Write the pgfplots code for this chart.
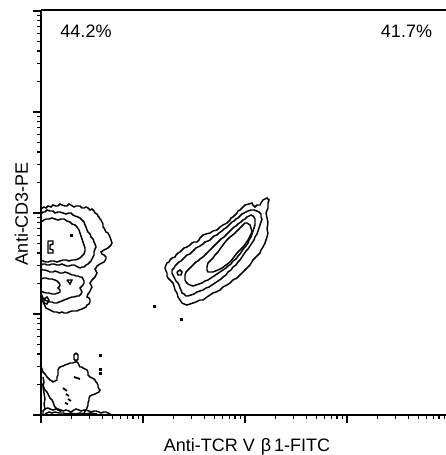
\documentclass[border=0pt]{standalone}
\usepackage{pgfplots}
\pgfplotsset{compat=1.18}
\usepackage{fontspec}
\setmainfont{Liberation Sans}
\newcommand\fs{\fontsize{18}{21}\selectfont}
\begin{document}
\begin{tikzpicture}
\begin{axis}[
  at={(0,0)}, anchor=south west,
  scale only axis, width=405pt, height=405pt,
  xmin=0, xmax=405, ymin=0, ymax=405,
  axis x line=box, axis y line=left,
  axis line style={line width=2pt,-},
  xtick pos=bottom,
  xtick={0,102,204,306},
  minor xtick={30.7,48.7,61.4,71.3,79.4,86.2,92.1,97.3,
    132.7,150.7,163.4,173.3,181.4,188.2,194.1,199.3,
    234.7,252.7,265.4,275.3,283.4,290.2,296.1,301.3,
    336.7,354.7,367.4,377.3,385.4,392.2,398.1,403.3},
  ytick={0,101,202,303,404},
  minor ytick={30.4,48.2,60.8,70.6,78.6,85.4,91.2,96.4,
    131.4,149.2,161.8,171.6,179.6,186.4,192.2,197.4,
    232.4,250.2,262.8,272.6,280.6,287.4,293.2,298.4,
    333.4,351.2,363.8,373.6,381.6,388.4,394.2,399.4},
  xticklabels={}, yticklabels={},
  tick align=outside,
  major tick length=8pt, minor tick length=4pt,
  tick style={black, line width=1.4pt},
  clip=false,
  c/.style={black, line width=1.45pt, mark=none, sharp plot, line join=miter},
  d/.style={black, only marks, mark=square*, mark size=1.2pt},
]
% ---- upper-left population (CD3+ Vb1-)
\addplot[c] coordinates {(0,206) (3,208) (5,207) (7,209) (10,208) (12,210) (15,209) (17,209) (19,211) (21,210) (24,209) (26,209) (28,211) (30,210) (33,208) (35,209) (39,209) (41,207) (43,207) (45,208) (47,207) (49,205) (51,206) (53,204) (54,202) (56,201) (57,199) (58,198) (59,196) (60,195) (61,193) (62,191) (62,188) (63,187) (64,185) (65,183) (67,182) (68,180) (69,178) (70,175) (71,172) (70,170) (68,168) (67,167) (65,166) (63,165) (60,163) (61,161) (63,160) (65,158) (65,156) (63,153) (61,152) (59,151) (56,149) (55,147) (54,146) (55,144) (56,142) (55,140) (54,138) (52,136) (51,135) (49,132) (50,130) (51,128) (50,126) (49,124) (48,122) (47,121) (46,118) (48,117) (49,115) (49,113) (48,111) (46,110) (45,108) (43,107) (41,106) (38,105) (36,104) (33,104) (31,104) (28,103) (26,102) (23,102) (21,103) (18,102) (16,103) (13,103) (11,104) (9,105) (7,106) (5,107) (4,109) (3,111) (2,113) (1,117) (0,120)};
\addplot[c] coordinates {(0,201) (2,203) (4,203) (6,205) (9,204) (12,204) (14,202) (17,203) (19,203) (22,202) (25,201) (28,202) (30,202) (32,200) (34,199) (37,198) (39,197) (41,195) (43,193) (44,190) (45,188) (46,185) (47,183) (49,181) (50,178) (52,176) (53,173) (54,171) (55,168) (54,166) (53,163) (53,160) (52,158) (51,156) (50,154) (48,152) (47,151) (45,150) (43,148) (41,148) (39,147) (37,148) (35,149) (33,150) (31,150) (28,149) (26,149) (23,150) (21,151) (18,150) (16,150) (13,151) (11,151) (8,150) (6,150) (4,151) (2,151) (0,150)};
\addplot[c] coordinates {(0,146) (2,145) (4,145) (7,144) (9,143) (12,143) (14,144) (17,143) (19,142) (22,142) (24,143) (27,142) (29,141) (31,140) (33,140) (35,139) (37,139) (39,138) (41,138) (42,136) (43,134) (43,132) (42,130) (40,128) (39,127) (40,125) (41,123) (40,121) (38,119) (36,119) (33,118) (31,118) (28,117) (26,116) (23,115) (21,114) (18,113) (16,112) (13,112) (11,113) (8,113) (6,114) (4,115) (2,117) (1,119) (0,122)};
\addplot[c] coordinates {(0,193) (3,195) (5,196) (8,196) (11,197) (14,196) (17,195) (20,196) (23,196) (26,194) (29,193) (31,191) (34,190) (36,188) (38,185) (39,182) (40,179) (41,176) (42,173) (43,170) (44,167) (44,164) (43,161) (41,159) (39,157) (37,156) (34,155) (31,155) (28,154) (25,155) (22,155) (19,154) (16,153) (13,154) (10,154) (7,153) (5,153) (2,154) (0,155)};
\addplot[c] coordinates {(7,174) (12,174) (12,171) (9,170) (9,166) (12,165) (12,162) (7,162) (7,174)};
\addplot[c] coordinates {(0,136) (3,137) (5,137) (8,136) (11,136) (14,135) (16,134) (18,132) (19,130) (18,128) (17,127) (19,125) (19,123) (17,122) (14,121) (11,121) (8,122) (5,122) (2,123) (0,124)};
\addplot[c] coordinates {(26,135) (31,135) (29,131) (26,135)};
\addplot[c] coordinates {(3,116) (6,118) (8,115) (6,111) (3,112) (3,116)};
\addplot[d] coordinates {(30,180)};
% ---- lower-left population (double negative)
\addplot[c] coordinates {(0,49) (1,46) (2,43) (4,41) (6,38) (8,36) (9,35) (11,34) (12,33) (14,34) (16,35) (16,38) (17,40) (17,43) (17,45) (18,47) (19,48) (22,49) (24,50) (27,51) (29,52) (32,52) (34,53) (36,53) (37,52) (38,50) (39,48) (41,48) (42,47) (44,46) (46,45) (47,43) (47,40) (49,38) (51,37) (53,36) (54,35) (55,33) (56,32) (57,30) (57,28) (58,26) (59,25) (58,23) (56,22) (54,21) (51,20) (49,19) (48,17) (48,15) (47,12) (47,10) (46,7) (45,5) (44,4) (43,1) (43,0)};
\addplot[c] coordinates {(35,62) (37,60) (37,56) (35,54) (33,56) (33,60) (35,62)};
\addplot[c] coordinates {(0,32) (2,30) (3,27) (4,25) (6,23) (7,21) (8,19) (9,17) (11,15) (12,13) (13,10) (14,8) (16,6) (17,5) (19,4) (20,3)};
\addplot[c, line width=1.8pt] coordinates {(22,27) (26,24)};
\addplot[c, line width=1.8pt] coordinates {(25,21) (28,19)};
\addplot[c, line width=1.8pt] coordinates {(27,16) (30,14)};
\addplot[c, line width=1.8pt] coordinates {(33,38) (36,37) (39,36)};
\addplot[c, line width=1.8pt] coordinates {(24,12) (27,11)};
\addplot[c] coordinates {(2,0) (2,4) (4,6) (7,7) (9,6) (12,5) (15,6) (17,6) (20,5) (22,4) (25,5) (28,4) (30,3) (33,5) (35,6) (38,5) (40,4) (43,5) (45,5) (48,4) (50,3) (53,4) (55,4) (58,3) (60,2) (63,3) (65,3) (67,2) (69,1) (70,0)};
\addplot[c] coordinates {(4,1) (8,3) (11,2) (14,3) (18,2) (22,2) (26,1) (30,2) (34,1) (39,2) (44,1) (50,2) (56,1)};
\addplot[c] coordinates {(2,38) (3,33) (2,28) (3,22) (4,16) (3,11) (4,6)};
\addplot[d] coordinates {(59,60) (59,46) (59,42)};
% ---- diagonal population (CD3+ Vb1+)
\addplot[c] coordinates {(124,147) (125,144) (126,142) (126,139) (127,137) (129,135) (132,132) (133,129) (134,125) (136,122) (137,118) (139,115) (141,112) (143,111) (146,110) (149,111) (152,112) (155,113) (159,115) (162,115) (166,118) (169,120) (172,122) (175,123) (179,125) (182,128) (186,130) (189,132) (192,135) (196,137) (199,140) (202,143) (206,147) (209,150) (212,155) (215,158) (219,162) (220,165) (222,168) (224,172) (226,178) (227,182) (226,186) (227,192) (226,197) (225,202) (227,207) (227,212) (228,215) (226,217) (224,216) (222,215) (220,212) (219,210) (216,210) (214,208) (212,210) (211,212) (208,211) (204,210) (202,208) (199,205) (197,204) (196,202) (194,200) (192,198) (190,197) (189,195) (187,193) (186,192) (182,190) (179,188) (177,186) (176,185) (172,184) (169,182) (165,181) (162,180) (160,178) (159,177) (158,175) (156,173) (153,173) (151,172) (149,170) (146,168) (143,167) (141,165) (139,163) (137,162) (135,160) (134,158) (131,157) (129,155) (128,153) (126,152) (125,150) (124,147)};
\addplot[c] coordinates {(131,145) (133,147) (134,149) (136,151) (138,153) (140,154) (142,156) (144,158) (146,160) (149,161) (151,163) (153,165) (155,167) (157,168) (159,169) (162,171) (164,173) (167,174) (169,175) (171,177) (173,179) (176,180) (178,182) (181,184) (183,186) (185,187) (187,189) (189,191) (191,193) (193,194) (195,196) (197,197) (199,199) (201,201) (203,202) (205,203) (207,204) (210,205) (213,205) (216,204) (218,203) (220,201) (220,198) (221,196) (220,193) (219,190) (218,187) (217,184) (216,181) (214,178) (213,175) (211,172) (209,169) (207,166) (205,164) (203,161) (201,158) (199,155) (197,153) (195,150) (192,148) (190,145) (187,143) (185,140) (182,138) (180,136) (177,134) (174,132) (171,130) (168,128) (165,127) (162,125) (159,124) (156,123) (153,121) (150,120) (147,119) (145,119) (143,121) (141,122) (140,125) (139,127) (138,130) (137,132) (135,134) (134,136) (133,138) (132,140) (131,142) (131,145)};
\addplot[c] coordinates {(144,140) (145,143) (147,145) (149,147) (151,149) (153,151) (155,153) (157,154) (159,156) (162,158) (164,160) (166,162) (168,164) (170,166) (172,168) (174,170) (176,172) (178,174) (180,176) (183,178) (185,180) (187,182) (189,184) (191,186) (193,188) (195,189) (197,191) (200,193) (202,195) (204,196) (206,198) (208,199) (210,200) (212,199) (213,198) (214,196) (214,193) (214,190) (213,187) (212,184) (211,181) (210,178) (208,175) (207,172) (205,169) (203,167) (201,164) (199,161) (197,159) (195,156) (192,154) (190,151) (187,149) (185,147) (182,145) (179,143) (176,141) (173,139) (170,137) (167,135) (164,134) (161,132) (158,131) (155,130) (152,129) (149,130) (147,131) (145,133) (144,135) (144,138) (144,140)};
\addplot[c] coordinates {(166,145) (166,148) (167,152) (169,154) (172,157) (174,160) (177,163) (179,166) (182,170) (185,174) (189,178) (193,181) (197,185) (200,188) (204,192) (206,192) (209,190) (210,187) (211,183) (209,179) (207,175) (205,172) (202,168) (199,165) (196,162) (193,158) (189,153) (185,150) (181,147) (177,145) (172,143) (169,143) (167,143) (166,145)};
\addplot[c] coordinates {(136,143) (139,145) (141,143) (140,140) (137,140) (136,143)};
\addplot[d] coordinates {(113,109) (140,96)};
% ---- texts
\node[anchor=base, font=\fs] at (axis cs:45,377) {44.2\%};
\node[anchor=base, font=\fs] at (axis cs:365.5,377) {41.7\%};
\node[anchor=base, font=\fs] at (axis cs:206,-36) {Anti-TCR V\,\,β\,1-FITC};
\node[anchor=base, font=\fs, rotate=90] at (axis cs:-13,201.5) {Anti-CD3-PE};
\end{axis}
\pgfresetboundingbox
\path[use as bounding box] (-41pt,-40pt) rectangle (405pt,415pt);
\end{tikzpicture}
\end{document}
